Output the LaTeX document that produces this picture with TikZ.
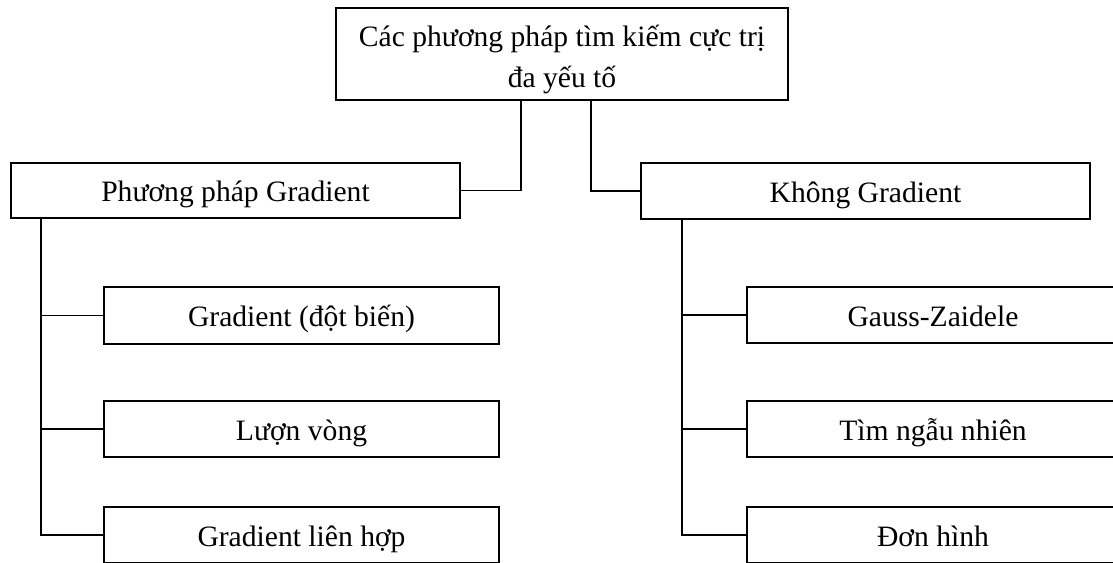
\documentclass[tikz,border=0pt]{standalone}
\usepackage{fontspec}
\setmainfont{Liberation Serif}
\begin{document}
\begin{tikzpicture}[x=0.5pt,y=-0.5pt,
  box/.style={draw=black,line width=0.6pt,rectangle,inner sep=0pt,anchor=center,
    font=\fontsize{14.8}{17}\selectfont},
  onebox/.style={box,text height=11pt,text depth=0pt},
  link/.style={draw=black,line width=0.9pt}]
\path[use as bounding box] (0,0) rectangle (1113,562);
\clip (0,0) rectangle (1113,562);
% top
\node[box,minimum width=226pt,minimum height=46pt,align=center] (top) at (562,54)
  {\rule{0pt}{16pt}Các phương pháp tìm kiếm cực trị\\[3.5pt]đa yếu tố};
% level 1
\node[onebox,minimum width=224.5pt,minimum height=27.5pt] (pg) at (235.5,190.5) {Phương pháp Gradient};
\node[onebox,minimum width=224.5pt,minimum height=28pt] (kg) at (865.5,191) {Không Gradient};
% left children
\node[onebox,minimum width=197.5pt,minimum height=28.5pt] (c1) at (301.5,315.5) {Gradient (đột biến)};
\node[onebox,minimum width=197.5pt,minimum height=28pt] (c2) at (301.5,429) {Lượn vòng};
\node[onebox,minimum width=197.5pt,minimum height=28pt] (c3) at (301.5,535) {Gradient liên hợp};
% right children
\node[onebox,minimum width=186pt,minimum height=28pt] (d1) at (933,315) {Gauss-Zaidele};
\node[onebox,minimum width=186pt,minimum height=28pt] (d2) at (933,429) {Tìm ngẫu nhiên};
\node[onebox,minimum width=186pt,minimum height=28pt] (d3) at (933,535) {Đơn hình};
% connectors
\coordinate (tl) at (521,100);
\coordinate (tr) at (591,100);
\path[link] (tl) |- (pg.east);
\path[link] (tr) |- (kg.west);
\coordinate (lt) at (41,218);
\coordinate (rt) at (682,219);
\path[link] (lt) |- (c3.west);
\path[link] (lt |- c1.west) -- (c1.west);
\path[link] (lt |- c2.west) -- (c2.west);
\path[link] (rt) |- (d3.west);
\path[link] (rt |- d1.west) -- (d1.west);
\path[link] (rt |- d2.west) -- (d2.west);
\end{tikzpicture}
\end{document}
